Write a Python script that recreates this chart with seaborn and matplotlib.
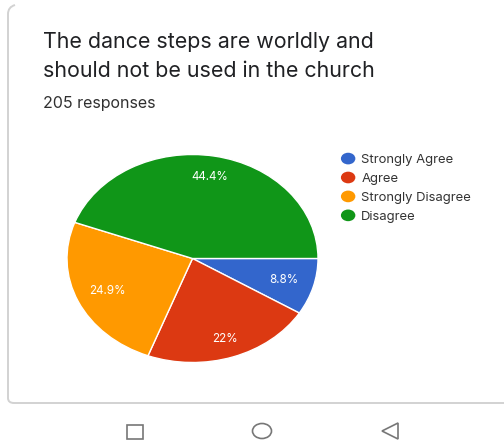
import matplotlib
matplotlib.use("Agg")
import matplotlib.pyplot as plt
import seaborn as sns
from matplotlib.legend_handler import HandlerPatch
from matplotlib.patches import Ellipse, PathPatch, Polygon, Rectangle
from matplotlib.path import Path

categories = ["Strongly Agree", "Agree", "Strongly Disagree", "Disagree"]
shares = [8.8, 22, 24.9, 44.4]
colors = ["#3366CC", "#DC3912", "#FF9900", "#109618"]
title_lines = ["The dance steps are worldly and", "should not be used in the church"]
subtitle = "205 responses"

W, H = 504, 443
sns.set_theme(style="white")
plt.rcParams["font.family"] = ["Inter", "DejaVu Sans"]
palette = sns.color_palette(colors)

fig = plt.figure(figsize=(W / 100, H / 100), dpi=100, facecolor="white")

# Page layer in pixel units: card outline, heading and navigation icons
page = fig.add_axes([0, 0, 1, 1])
page.set_xlim(0, W)
page.set_ylim(H, 0)
page.axis("off")
card_edge = Path(
    [(15, 5), (8, 7), (8, 14), (8, 398), (8, 403), (14, 403), (504, 403)],
    [Path.MOVETO, Path.CURVE3, Path.CURVE3, Path.LINETO, Path.CURVE3, Path.CURVE3, Path.LINETO],
)
page.add_patch(PathPatch(card_edge, facecolor="none", edgecolor="#D2D2D2", linewidth=1.4))
page.text(43, 42, title_lines[0], fontsize=15.4, color="#202124", va="center", ha="left")
page.text(43, 71, title_lines[1], fontsize=15.4, color="#202124", va="center", ha="left")
page.text(43, 103, subtitle, fontsize=11.5, color="#303030", va="center", ha="left")

icon = dict(facecolor="none", edgecolor="#777777", linewidth=1.2)
page.add_patch(Rectangle((127, 425), 16, 14, **icon))
page.add_patch(Ellipse((262, 431), 19, 15, **icon))
page.add_patch(Polygon([(398, 423), (398, 439), (382, 431)], closed=True, **icon))

# Pie stretched horizontally to fill its axes
cx, cy, rx, ry = 192.5, 258.5, 125.5, 104
pie_ax = fig.add_axes([(cx - rx) / W, 1 - (cy + ry) / H, 2 * rx / W, 2 * ry / H])
wedges, _, autotexts = pie_ax.pie(
    shares, colors=palette, startangle=0, counterclock=False, radius=1,
    autopct="%.1f%%", pctdistance=0.76,
    wedgeprops=dict(edgecolor="white", linewidth=1.0),
    textprops=dict(color="white", fontsize=8.4),
)
# Each slice label sits at its own distance from the centre
radial_factor = [1.0, 1.07, 0.98, 1.05]
for label, value, factor in zip(autotexts, shares, radial_factor):
    label.set_text(f"{value:g}%")
    x, y = label.get_position()
    label.set_position((x * factor, y * factor))
pie_ax.set_aspect("auto")
pie_ax.set_xlim(-1, 1)
pie_ax.set_ylim(-1, 1)


class OvalHandler(HandlerPatch):
    def create_artists(self, legend, orig_handle, xdescent, ydescent, width, height, fontsize, trans):
        oval = Ellipse((width / 2 - xdescent, height / 2 - ydescent), 10.4, 8.4,
                       facecolor=orig_handle.get_facecolor(), edgecolor="none", transform=trans)
        return [oval]


legend = fig.legend(
    wedges, categories, loc="upper left", bbox_to_anchor=(339 / W, 1 - 154 / H),
    frameon=False, fontsize=9.4, labelspacing=0.52, handlelength=1.4, handletextpad=0.31,
    borderpad=0, borderaxespad=0, handler_map={w: OvalHandler() for w in wedges},
)
for text in legend.get_texts():
    text.set_color("#333333")

fig.savefig("out.png", dpi=100, facecolor="white")
